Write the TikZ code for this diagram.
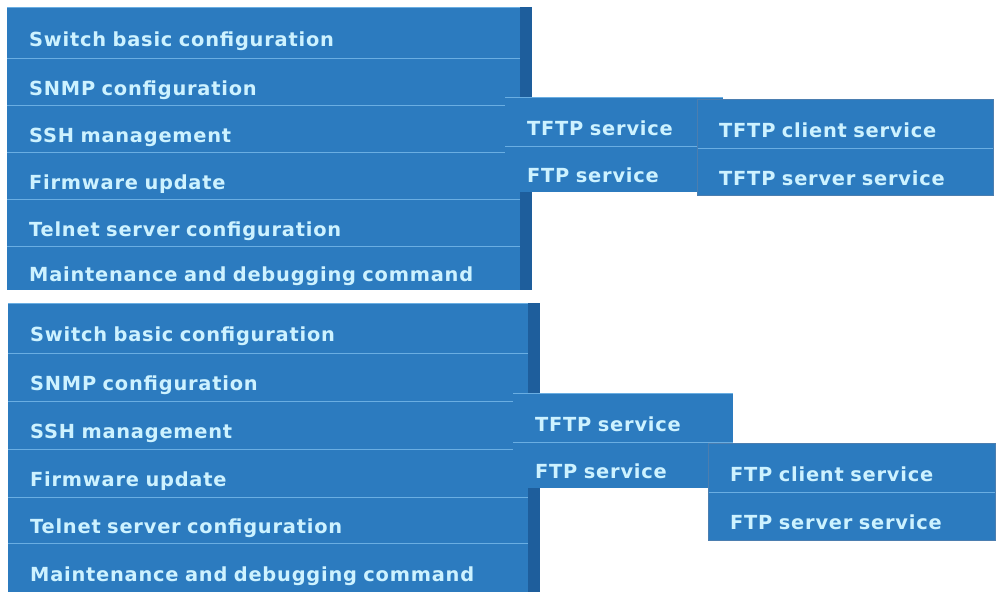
\documentclass[tikz,border=0pt]{standalone}
\usepackage{fontspec}
\usepackage{tikz}
\usetikzlibrary{positioning}
\newfontfamily\menufont{DejaVu Sans}[LetterSpace=4]
\definecolor{menublue}{HTML}{2C7BBF}
\definecolor{menudark}{HTML}{1E5E9C}
\definecolor{menuline}{HTML}{6AAEE2}
\definecolor{menutext}{HTML}{CDF2FF}

\begin{document}
\begin{tikzpicture}[
  x=1pt,y=-1pt,
  item/.style={fill=menublue,text=menutext,anchor=north west,align=left,
               font=\menufont\bfseries\fontsize{19.4}{22}\selectfont,
               inner xsep=22pt,inner ysep=0pt,text height=27pt,text depth=0pt},
  bar/.style={fill=menudark,anchor=north west,minimum width=12pt,inner sep=0pt},
  sep/.style={draw=menuline,line width=1.3pt},
  subedge/.style={draw=menudark!80,line width=0.6pt}
]
\fill[white] (0,0) rectangle (1000,595);

% upper menu
\foreach \y/\h/\lbl [count=\i] in {7/51/Switch basic configuration,58/47/SNMP configuration,
    105/47/SSH management,152/47/Firmware update,199/47/Telnet server configuration,
    246/44/Maintenance and debugging command}
  \node[item,text width=469pt,minimum height=\h pt] (t\i) at (7,\y) {\lbl};
\node[bar,minimum height=283pt] (tbar) at (520,7) {};
\foreach \i in {1,...,5}
  \draw[sep] (t\i.south west) -- (t\i.south east);
\draw[sep,line width=0.8pt] (t1.north west) -- (t1.north east);

% upper submenus
\node[item,text width=174pt,minimum height=49pt] (ta) at (505,97) {TFTP service};
\node[item,text width=174pt,minimum height=46pt] (tb) at (505,146) {FTP service};
\draw[sep] (ta.south west) -- (ta.south east);
\draw[sep,line width=0.8pt] (ta.north west) -- (ta.north east);
\node[item,text width=252pt,minimum height=49pt] (tc) at (697,99) {TFTP client service};
\node[item,text width=252pt,minimum height=47pt] (td) at (697,148) {TFTP server service};
\draw[sep] (tc.south west) -- (tc.south east);
\draw[subedge] (tc.north west) rectangle (td.south east);

% lower menu
\foreach \y/\h/\lbl [count=\i] in {303/50/Switch basic configuration,353/48/SNMP configuration,
    401/48/SSH management,449/48/Firmware update,497/46/Telnet server configuration,
    543/49/Maintenance and debugging command}
  \node[item,text width=476pt,minimum height=\h pt] (b\i) at (8,\y) {\lbl};
\node[bar,minimum height=289pt] (bbar) at (528,303) {};
\foreach \i in {1,...,5}
  \draw[sep] (b\i.south west) -- (b\i.south east);
\draw[sep,line width=0.8pt] (b1.north west) -- (b1.north east);

% lower submenus
\node[item,text width=176pt,minimum height=49pt] (ba) at (513,393) {TFTP service};
\node[item,text width=176pt,minimum height=46pt] (bb) at (513,442) {FTP service};
\draw[sep] (ba.south west) -- (ba.south east);
\draw[sep,line width=0.8pt] (ba.north west) -- (ba.north east);
\node[item,text width=243pt,minimum height=49pt] (bc) at (708,443) {FTP client service};
\node[item,text width=243pt,minimum height=48pt] (bd) at (708,492) {FTP server service};
\draw[sep] (bc.south west) -- (bc.south east);
\draw[subedge] (bc.north west) rectangle (bd.south east);
\end{tikzpicture}
\end{document}
